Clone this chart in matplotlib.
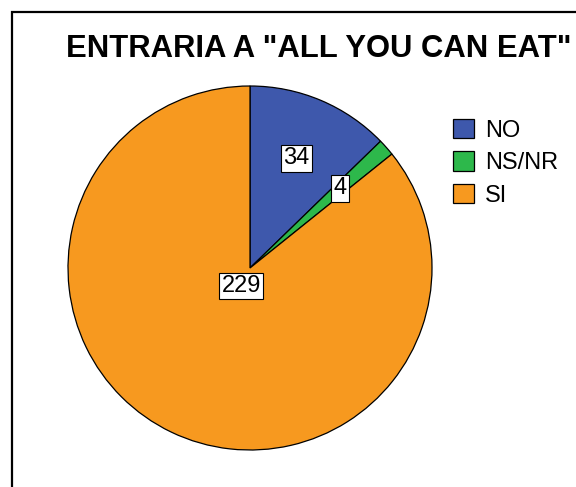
import matplotlib
matplotlib.use("Agg")
from matplotlib import pyplot as plt
from matplotlib.patches import Rectangle, Patch
import numpy as np

categories = ["NO", "NS/NR", "SI"]
counts = [34, 4, 229]
colors = ["#3e58ac", "#2db84b", "#f7991f"]
title = 'ENTRARIA A "ALL YOU CAN EAT"'

plt.rcParams["font.family"] = ["Liberation Sans", "DejaVu Sans"]

W, H = 576, 487
fig = plt.figure(figsize=(W / 100, H / 100), dpi=100)

# outer frame, running off the right and bottom edges
fig.patches.append(Rectangle((12 / W, -0.1), 1.2, 1 - 12 / H + 0.1,
                             transform=fig.transFigure, fill=False,
                             ec="black", lw=1.6))

fig.text(66 / W, 1 - 57 / H, title, fontsize=22.3, fontweight="bold",
         ha="left", va="baseline")

# pie axes: centre (250, 268) px, radius 182 px
cx, cy, r = 250, 268, 182
ax = fig.add_axes([(cx - r) / W, (H - cy - r) / H, 2 * r / W, 2 * r / H])
wedges, _ = ax.pie(counts, colors=colors, startangle=90, counterclock=False,
                   radius=1, wedgeprops=dict(ec="black", lw=0.9))
ax.set_xlim(-1, 1)
ax.set_ylim(-1, 1)
ax.set_aspect("equal")
ax.axis("off")

label_r = [0.655, 0.66, 0.11]
for w, n, lr in zip(wedges, counts, label_r):
    mid = np.deg2rad((w.theta1 + w.theta2) / 2)
    ax.text(lr * np.cos(mid), lr * np.sin(mid), str(n), fontsize=17,
            ha="center", va="center",
            bbox=dict(boxstyle="square,pad=0.1", fc="white", ec="black", lw=0.8))

handles = [Patch(fc=c, ec="black", lw=0.9) for c in colors]
fig.legend(handles, categories, loc="upper left",
           bbox_to_anchor=(441 / W, 1 - 107 / H), frameon=False,
           fontsize=17, handlelength=0.9, handleheight=0.9,
           handletextpad=0.45, labelspacing=0.4, borderpad=0)

fig.savefig("out.png", dpi=100)
